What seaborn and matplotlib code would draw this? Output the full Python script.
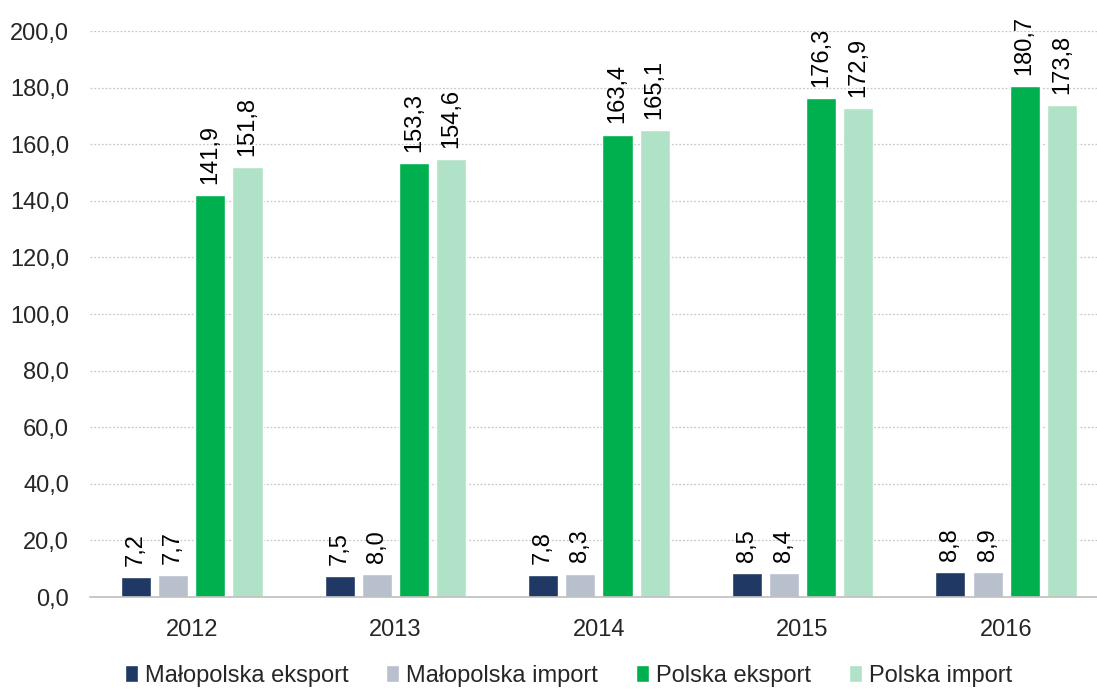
import pandas as pd
import seaborn as sns
import matplotlib.pyplot as plt

years = ["2012", "2013", "2014", "2015", "2016"]
series = ["Małopolska eksport", "Małopolska import", "Polska eksport", "Polska import"]
malopolska_eksport = [7.2, 7.5, 7.8, 8.5, 8.8]
malopolska_import = [7.7, 8.0, 8.3, 8.4, 8.9]
polska_eksport = [141.9, 153.3, 163.4, 176.3, 180.7]
polska_import = [151.8, 154.6, 165.1, 172.9, 173.8]
colors = ["#1F3864", "#B8C0CE", "#00B04F", "#B0E2C8"]

values = [malopolska_eksport, malopolska_import, polska_eksport, polska_import]
df = pd.DataFrame([
    {"rok": y, "seria": s, "wartosc": v}
    for s, vals in zip(series, values)
    for y, v in zip(years, vals)
])

sns.set_style("white")
plt.rcParams["font.family"] = ["Liberation Sans", "DejaVu Sans"]
fs = 17

fig = plt.figure(figsize=(10.97, 6.89), dpi=100)
ax = fig.add_axes([0.082, 0.1335, 0.928, 0.8215])

sns.barplot(data=df, x="rok", y="wartosc", hue="seria", order=years,
            hue_order=series, palette=colors, width=0.73, gap=0.19,
            saturation=1, ax=ax, legend=True)

for cont in ax.containers:
    labels = [f"{b.get_height():.1f}".replace(".", ",") for b in cont]
    ax.bar_label(cont, labels=labels, rotation=90, padding=8, fontsize=fs,
                 color="#000000")

ax.set_ylim(0, 200)
ax.set_xlim(-0.5, 4.5)
ax.set_yticks(range(0, 201, 20))
ax.set_yticklabels([f"{t},0" for t in range(0, 201, 20)], fontsize=fs)
ax.tick_params(axis="x", labelsize=fs, length=0, pad=16)
ax.tick_params(axis="y", length=0, pad=15)
ax.set_xlabel("")
ax.set_ylabel("")
ax.yaxis.grid(True, color="#C8C8C8", linestyle=(0, (1.5, 1.5)), linewidth=0.9)
ax.set_axisbelow(True)
for side in ["top", "right", "left"]:
    ax.spines[side].set_visible(False)
ax.spines["bottom"].set_color("#BFBFBF")
ax.spines["bottom"].set_linewidth(1.2)

ax.legend(loc="upper center", bbox_to_anchor=(0.47, -0.103), ncol=4,
          frameon=False, fontsize=fs, handlelength=0.55, handleheight=0.7,
          handletextpad=0.3, columnspacing=1.6, borderaxespad=0)

fig.savefig("out.png", dpi=100)
